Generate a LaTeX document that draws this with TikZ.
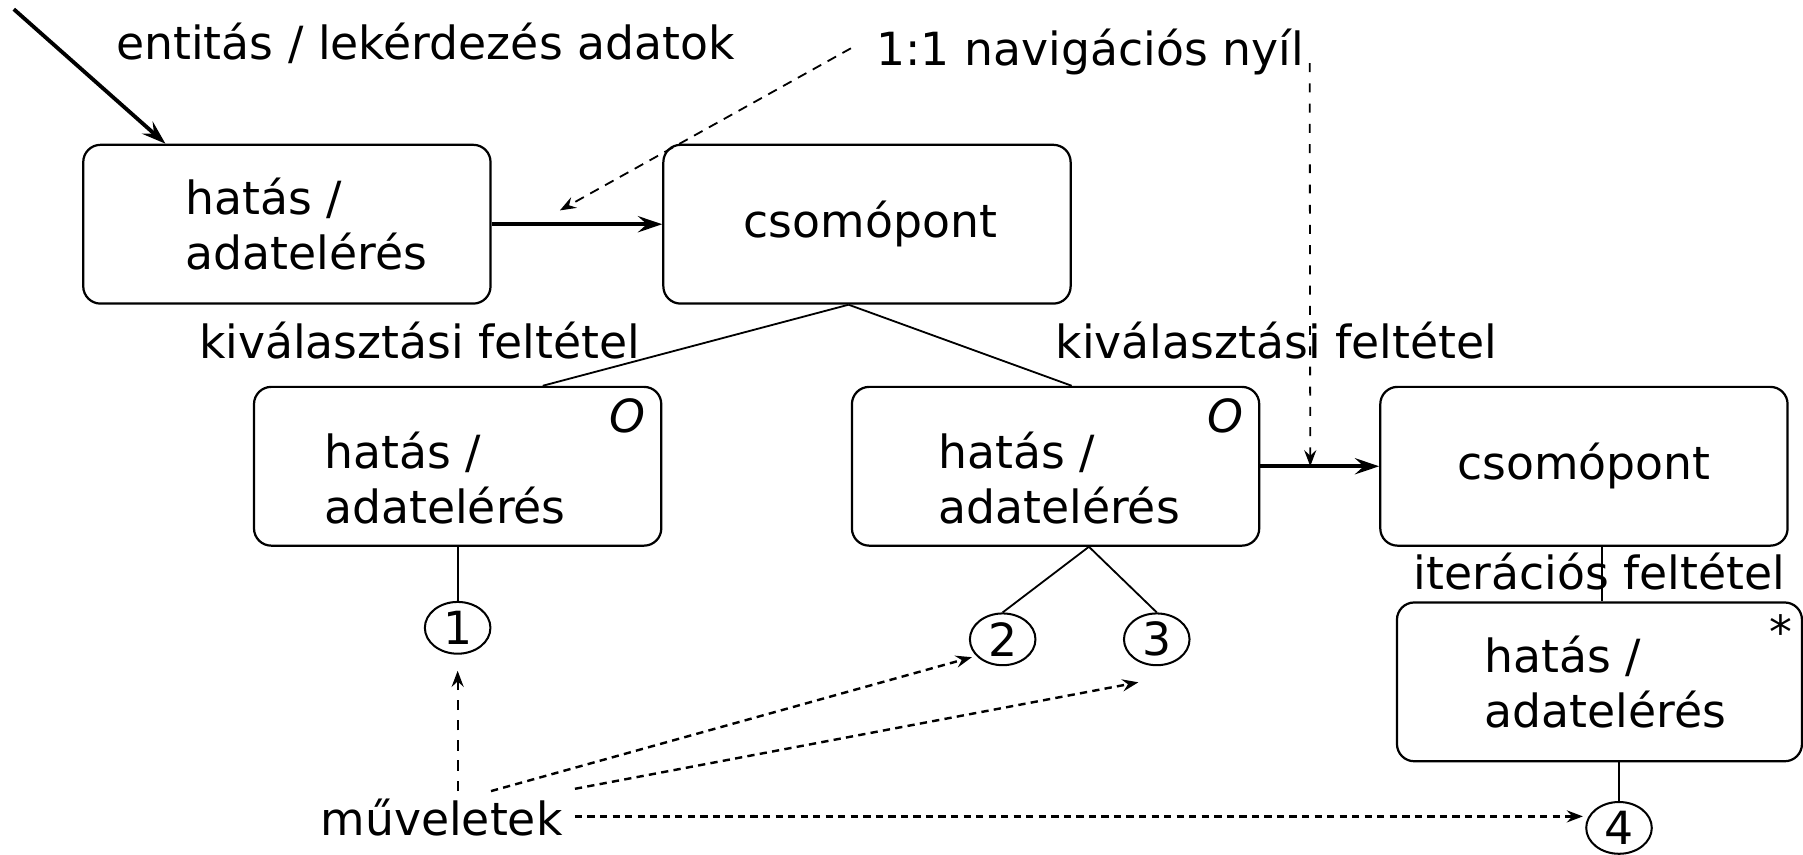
\documentclass[tikz,border=0pt]{standalone}
\usepackage{fontspec}
\setmainfont{DejaVu Sans}
\usetikzlibrary{arrows.meta,shapes.geometric,calc}
\begin{document}
\begin{tikzpicture}[x=0.01cm,y=-0.01cm,
  font=\fontsize{11.3}{13.7}\selectfont,
  box/.style={draw, rounded corners=0.15cm, minimum width=3.54cm, minimum height=1.38cm, line width=0.55pt, align=left, inner sep=0pt},
  lbl/.style={inner sep=0pt},
  circ/.style={draw, ellipse, minimum width=0.57cm, minimum height=0.45cm, inner sep=0pt, line width=0.5pt},
  thickarr/.style={line width=0.95pt, -{Stealth[length=6pt,width=4pt,inset=2.2pt]}},
  conn/.style={line width=0.45pt},
  navarr/.style={line width=0.45pt, dash pattern=on 2.4pt off 1.8pt, -{Stealth[length=4pt,width=3pt,inset=1.4pt]}},
  oparr/.style={line width=0.6pt, dash pattern=on 1.8pt off 1.3pt, -{Stealth[length=4pt,width=3pt,inset=1.4pt]}},
  vdarr/.style={line width=0.45pt, dash pattern=on 2.6pt off 2.4pt, -{Stealth[length=4pt,width=3pt,inset=1.4pt]}}
]
\useasboundingbox (0,0) rectangle (1568,743);

% boxes
\node[box] (b1) at (249.5,195) {\hspace*{0.34cm}hatás /\\\hspace*{0.34cm}adatelérés};
\node[box] (c1) at (754,195) {\hspace*{0.06cm}csomópont};
\node[box] (b2) at (398,405.5) {\hspace*{-0.22cm}\rule{0pt}{0.52cm}hatás /\\\hspace*{-0.22cm}adatelérés};
\node[box] (b3) at (918,405.5) {\hspace*{0.06cm}\rule{0pt}{0.52cm}hatás /\\\hspace*{0.06cm}adatelérés};
\node[box] (c2) at (1377.5,405.5) {csomópont};
\node[box, minimum width=3.52cm] (b4) at (1391,593) {\hspace*{0.1cm}hatás /\\\hspace*{0.1cm}adatelérés};

% corner marks
\node[lbl] (o2) at (546,362) {\textit{O}};
\node[lbl] (o3) at (1066,362) {\textit{O}};
\node[lbl] (st) at (1549,549) {*};

% labels
\node[lbl, anchor=base] (ent) at (370,52) {entitás / lekérdezés adatok};
\node[lbl, anchor=base] (nav) at (948,57) {1:1 navigációs nyíl};
\node[lbl, anchor=base] (k1) at (365,312) {kiválasztási feltétel};
\node[lbl, anchor=base] (k2) at (1110,312) {kiválasztási feltétel};
\node[lbl, anchor=base] (it) at (1391,513) {iterációs feltétel};
\node[lbl, anchor=base] (muv) at (384,727) {műveletek};

% circles
\node[circ] (n1) at (398,546) {1};
\node[circ] (n2) at (872,556) {2};
\node[circ] (n3) at (1006,556) {3};
\node[circ] (n4) at (1408,720) {4};

% free ends
\coordinate (s0) at (12,8);
\coordinate (navs) at (740,42);
\coordinate (navv) at (1139,55);
\coordinate (m1) at (398,688);
\coordinate (m2) at (427,688);
\coordinate (m3) at (500,686);
\coordinate (m4) at (500,710);

% solid connectors
\draw[thickarr] (s0) -- ($(b1.north west)+(72.5,0)$);
\draw[thickarr] (b1.east) -- (c1.west);
\draw[thickarr] (b3.east) -- (c2.west);
\draw[conn] ($(c1.south)+(-16,0)$) -- ($(b2.north)+(74,0)$);
\draw[conn] ($(c1.south)+(-16,0)$) -- ($(b3.north)+(14,0)$);
\draw[conn] ($(c2.south)+(15.5,0)$) -- ($(b4.north)+(2,0)$);
\draw[conn] (b2.south) -- (n1.north);
\draw[conn] ($(b3.south)+(29,0)$) -- (n2.north);
\draw[conn] ($(b3.south)+(29,0)$) -- (n3.north);
\draw[conn] ($(b4.south)+(17,0)$) -- (n4.north);

% dashed arrows
\draw[navarr] (navs) -- ($(b1.east)!0.4!(c1.west)+(0,-12)$);
\draw[navarr, dash pattern=on 2.2pt off 2.8pt] (navv) -- ($(b3.east)!0.42!(c2.west)$);
\draw[vdarr] (m1) -- ($(n1.south)+(0,14)$);
\draw[oparr] (m2) -- ($(n2.south west)+(-6,-1)$);
\draw[oparr] (m3) -- ($(n3.south)+(-16,14)$);
\draw[oparr] (m4) -- ($(n4.west)+(-2,-10)$);
\end{tikzpicture}
\end{document}
